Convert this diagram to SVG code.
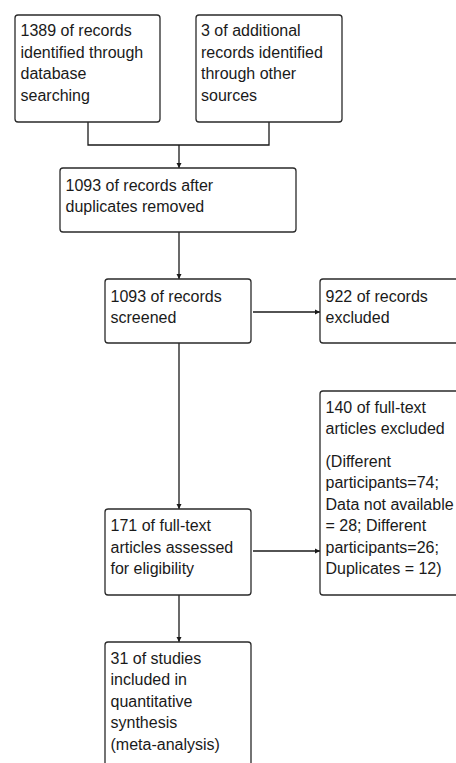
<svg xmlns="http://www.w3.org/2000/svg" width="456" height="763" viewBox="0 0 456 763">
<defs>
<marker id="ah" markerWidth="6" markerHeight="6" refX="5" refY="3" orient="auto" markerUnits="userSpaceOnUse">
<path d="M0,0.5 L5,3 L0,5.5 Z" fill="#1a1a1a"/>
</marker>
<style>
.box{fill:#fff;stroke:#2a2a2a;stroke-width:1.3}
.t{font-family:"Liberation Sans",Arial,sans-serif;font-size:16px;fill:#1a1a1a}
.c{fill:none;stroke:#1a1a1a;stroke-width:1.3}
</style>
</defs>
<rect width="456" height="763" fill="#fff"/>
<g id="connectors">
<path class="c" d="M88,122 V145 H269 V122"/>
<path class="c" d="M179,145 V168" marker-end="url(#ah)"/>
<path class="c" d="M179,232 V279" marker-end="url(#ah)"/>
<path class="c" d="M253,312 H320" marker-end="url(#ah)"/>
<path class="c" d="M179,343 V509" marker-end="url(#ah)"/>
<path class="c" d="M253,551 H320" marker-end="url(#ah)"/>
<path class="c" d="M179,595 V642" marker-end="url(#ah)"/>
</g>
<g id="n1">
<rect class="box" x="15" y="15" width="145" height="107" rx="3"/>
<text class="t" x="20.5" y="36">1389 of records</text>
<text class="t" x="20.5" y="57.5">identified through</text>
<text class="t" x="20.5" y="79">database</text>
<text class="t" x="20.5" y="100.5">searching</text>
</g>
<g id="n2">
<rect class="box" x="196" y="15" width="146" height="107" rx="3"/>
<text class="t" x="201" y="36">3 of additional</text>
<text class="t" x="201" y="57.5">records identified</text>
<text class="t" x="201" y="79">through other</text>
<text class="t" x="201" y="100.5">sources</text>
</g>
<g id="n3">
<rect class="box" x="60" y="168" width="236" height="64" rx="3"/>
<text class="t" x="65.5" y="190.5">1093 of records after</text>
<text class="t" x="65.5" y="212">duplicates removed</text>
</g>
<g id="n4">
<rect class="box" x="105" y="279" width="146" height="64" rx="3"/>
<text class="t" x="110.5" y="301.5">1093 of records</text>
<text class="t" x="110.5" y="322.5">screened</text>
</g>
<g id="n5">
<rect class="box" x="320" y="279" width="150" height="64" rx="3"/>
<text class="t" x="325.5" y="301.5">922 of records</text>
<text class="t" x="325.5" y="322.5">excluded</text>
</g>
<g id="n6">
<rect class="box" x="105" y="509" width="146" height="86" rx="3"/>
<text class="t" x="110.5" y="531">171 of full-text</text>
<text class="t" x="110.5" y="552.5">articles assessed</text>
<text class="t" x="110.5" y="574">for eligibility</text>
</g>
<g id="n7">
<rect class="box" x="320" y="391" width="150" height="204" rx="3"/>
<text class="t" x="325.5" y="412.5">140 of full-text</text>
<text class="t" x="325.5" y="434">articles excluded</text>
<text class="t" x="325.5" y="466.5">(Different</text>
<text class="t" x="325.5" y="488">participants=74;</text>
<text class="t" x="325.5" y="509.5">Data not available</text>
<text class="t" x="325.5" y="531">= 28; Different</text>
<text class="t" x="325.5" y="552.5">participants=26;</text>
<text class="t" x="325.5" y="574">Duplicates = 12)</text>
</g>
<g id="n8">
<rect class="box" x="105" y="642" width="146" height="140" rx="3"/>
<text class="t" x="110.5" y="663.5">31 of studies</text>
<text class="t" x="110.5" y="685">included in</text>
<text class="t" x="110.5" y="706.5">quantitative</text>
<text class="t" x="110.5" y="728">synthesis</text>
<text class="t" x="110.5" y="749.5">(meta-analysis)</text>
</g>
</svg>
